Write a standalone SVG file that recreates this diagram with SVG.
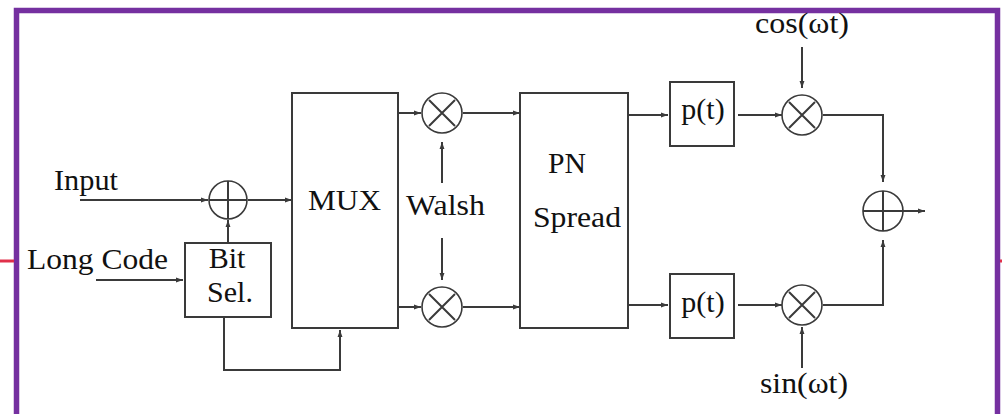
<svg xmlns="http://www.w3.org/2000/svg" width="1002" height="414" viewBox="0 0 1002 414">
<style>
.ln{fill:none;stroke:#3a3a3a;stroke-width:2}
.bx{fill:#fff;stroke:#3a3a3a;stroke-width:2}
.op{fill:#fff;stroke:#3a3a3a;stroke-width:1.6}
.t{font-family:"Liberation Serif","Times New Roman",serif;font-size:30px;fill:#111}
</style>
<defs>
<marker id="ah" viewBox="0 0 10 10" refX="10" refY="5" markerWidth="7" markerHeight="7" markerUnits="userSpaceOnUse" orient="auto">
<path d="M0,1.5 L10,5 L0,8.5 Z" fill="#3a3a3a"/>
</marker>
</defs>
<rect width="1002" height="414" fill="#fff"/>
<path d="M16.5,420 V10.5 H997.5 V420" fill="none" stroke="#7530a0" stroke-width="5.5"/>
<line x1="0" y1="261" x2="14" y2="261" stroke="#e0304a" stroke-width="3"/>
<line x1="1000" y1="261" x2="1002" y2="261" stroke="#e0304a" stroke-width="3"/>

<g id="connectors">
<line class="ln" x1="80" y1="200" x2="208" y2="200" marker-end="url(#ah)"/>
<line class="ln" x1="248" y1="200" x2="292" y2="200" marker-end="url(#ah)"/>
<line class="ln" x1="96" y1="280" x2="183" y2="280" marker-end="url(#ah)"/>
<line class="ln" x1="228" y1="243" x2="228" y2="220" marker-end="url(#ah)"/>
<path class="ln" d="M224,317 V370 H340 V330" marker-end="url(#ah)"/>
<line class="ln" x1="398" y1="113" x2="421" y2="113" marker-end="url(#ah)"/>
<line class="ln" x1="398" y1="307" x2="421" y2="307" marker-end="url(#ah)"/>
<line class="ln" x1="442" y1="183" x2="442" y2="142" marker-end="url(#ah)"/>
<line class="ln" x1="442" y1="238" x2="442" y2="280" marker-end="url(#ah)"/>
<line class="ln" x1="463" y1="113" x2="520" y2="113" marker-end="url(#ah)"/>
<line class="ln" x1="463" y1="307" x2="520" y2="307" marker-end="url(#ah)"/>
<line class="ln" x1="628" y1="115" x2="668" y2="115" marker-end="url(#ah)"/>
<line class="ln" x1="628" y1="305" x2="668" y2="305" marker-end="url(#ah)"/>
<line class="ln" x1="738" y1="115" x2="782" y2="115" marker-end="url(#ah)"/>
<line class="ln" x1="738" y1="305" x2="782" y2="305" marker-end="url(#ah)"/>
<line class="ln" x1="802" y1="47" x2="802" y2="88" marker-end="url(#ah)"/>
<line class="ln" x1="802" y1="368" x2="802" y2="327" marker-end="url(#ah)"/>
<path class="ln" d="M823,115 H883 V182" marker-end="url(#ah)"/>
<path class="ln" d="M823,305 H883 V240" marker-end="url(#ah)"/>
<line class="ln" x1="903" y1="211" x2="925" y2="211" marker-end="url(#ah)"/>
</g>

<g id="input-label"><text class="t" x="54" y="190" textLength="64" lengthAdjust="spacingAndGlyphs">Input</text></g>
<g id="longcode-label"><text class="t" x="27" y="269" textLength="141" lengthAdjust="spacingAndGlyphs">Long Code</text></g>

<g id="adder1">
<circle class="op" cx="228" cy="200" r="19"/>
<path class="ln" d="M209,200 H247 M228,181 V219" stroke-width="1.6"/>
</g>

<g id="bitsel">
<rect class="bx" x="185" y="243" width="86" height="74"/>
<text class="t" x="227" y="268" text-anchor="middle">Bit</text>
<text class="t" x="230" y="302" text-anchor="middle">Sel.</text>
</g>

<g id="mux">
<rect class="bx" x="292" y="93" width="106" height="235"/>
<text class="t" x="308" y="210" textLength="73" lengthAdjust="spacingAndGlyphs">MUX</text>
</g>

<g id="walsh-label"><text class="t" x="406" y="215" textLength="79" lengthAdjust="spacingAndGlyphs">Walsh</text></g>

<g id="mult-walsh-top">
<circle class="op" cx="442" cy="113" r="20"/>
<path class="ln" d="M429,100 L455,126 M455,100 L429,126" stroke-width="1.6"/>
</g>
<g id="mult-walsh-bottom">
<circle class="op" cx="442" cy="307" r="20"/>
<path class="ln" d="M429,294 L455,320 M455,294 L429,320" stroke-width="1.6"/>
</g>

<g id="pnspread">
<rect class="bx" x="520" y="93" width="108" height="235"/>
<text class="t" x="548" y="173" textLength="38" lengthAdjust="spacingAndGlyphs">PN</text>
<text class="t" x="533" y="227" textLength="88" lengthAdjust="spacingAndGlyphs">Spread</text>
</g>

<g id="pt-top">
<rect class="bx" x="670" y="82" width="64" height="64"/>
<text class="t" x="703" y="119" text-anchor="middle">p(t)</text>
</g>
<g id="pt-bottom">
<rect class="bx" x="670" y="274" width="64" height="64"/>
<text class="t" x="703" y="312" text-anchor="middle">p(t)</text>
</g>

<g id="mult-cos">
<circle class="op" cx="802" cy="115" r="20"/>
<path class="ln" d="M789,102 L815,128 M815,102 L789,128" stroke-width="1.6"/>
</g>
<g id="mult-sin">
<circle class="op" cx="802" cy="305" r="20"/>
<path class="ln" d="M789,292 L815,318 M815,292 L789,318" stroke-width="1.6"/>
</g>

<g id="cos-label"><text class="t" x="802" y="33" text-anchor="middle" textLength="94" lengthAdjust="spacingAndGlyphs">cos(ωt)</text></g>
<g id="sin-label"><text class="t" x="804" y="393" text-anchor="middle" textLength="88" lengthAdjust="spacingAndGlyphs">sin(ωt)</text></g>

<g id="adder2">
<circle class="op" cx="883" cy="211" r="20"/>
<path class="ln" d="M863,211 H903 M883,191 V231" stroke-width="1.6"/>
</g>
</svg>
